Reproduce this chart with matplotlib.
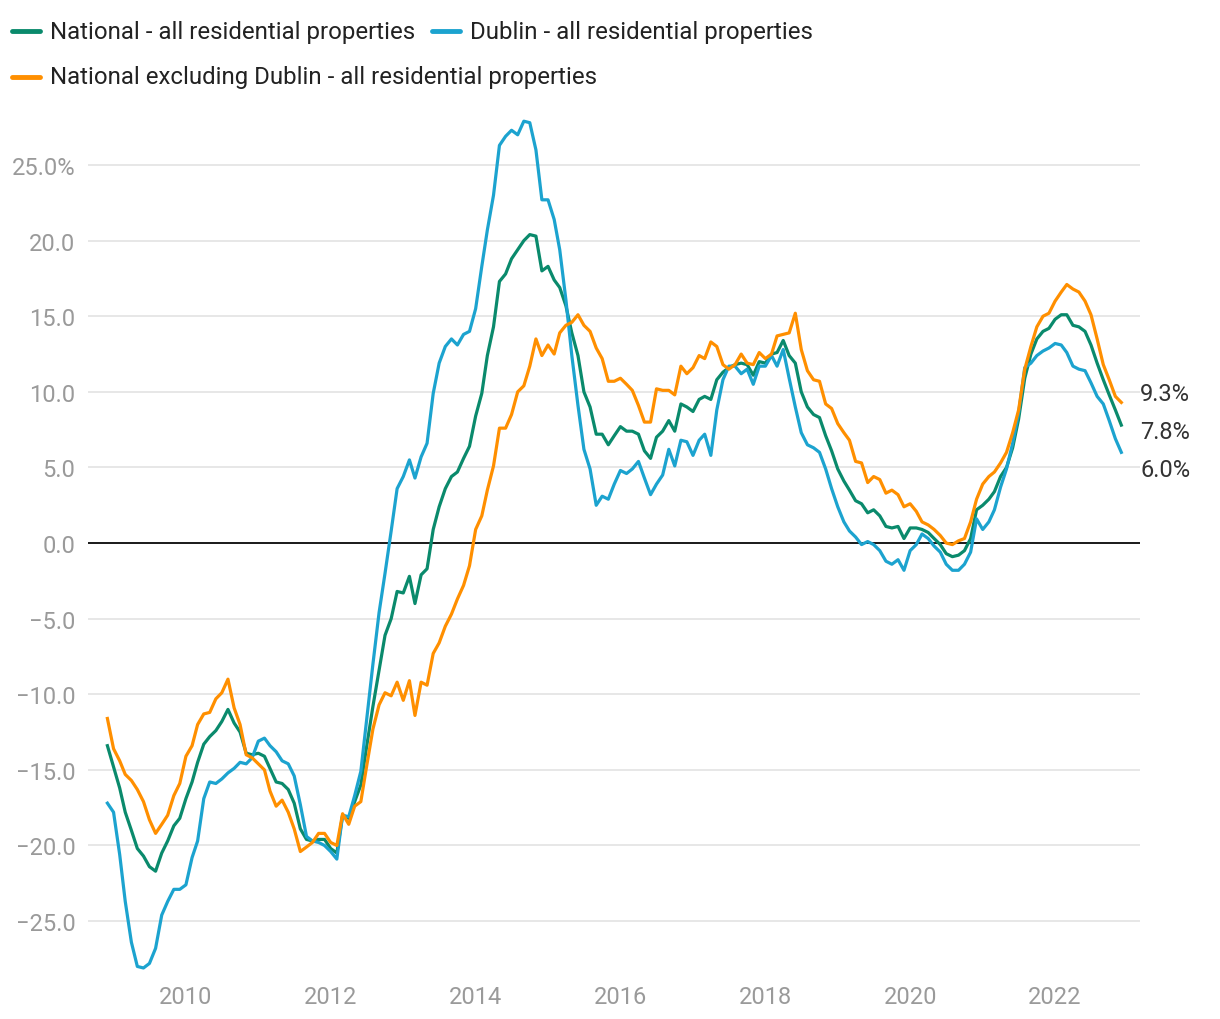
import matplotlib.pyplot as plt
import matplotlib.dates as mdates
from matplotlib.lines import Line2D
import pandas as pd

plt.rcParams['font.family'] = ['Roboto', 'DejaVu Sans']

# annual % change, monthly, Dec 2008 - Dec 2022
national = [
    -13.4, -14.8, -16.2, -17.8, -19.0, -20.2, -20.7, -21.4, -21.7, -20.5,
    -19.7, -18.7, -18.2, -16.9, -15.8, -14.5, -13.3, -12.8, -12.4, -11.8,
    -11.0, -11.9, -12.5, -13.9, -14.0, -13.9, -14.1, -14.9, -15.8, -15.9,
    -16.3, -17.2, -18.9, -19.6, -19.7, -19.6, -19.6, -20.2, -20.5, -18.0,
    -18.2, -17.1, -16.0, -13.4, -10.8, -8.4, -6.1, -5.0, -3.2, -3.3,
    -2.2, -4.0, -2.1, -1.7, 0.9, 2.4, 3.6, 4.4, 4.7, 5.6,
    6.4, 8.4, 9.9, 12.4, 14.3, 17.3, 17.8, 18.8, 19.4, 20.0,
    20.4, 20.3, 18.0, 18.3, 17.4, 16.9, 15.7, 13.9, 12.4, 10.0,
    9.0, 7.2, 7.2, 6.5, 7.1, 7.7, 7.4, 7.4, 7.2, 6.1,
    5.6, 7.0, 7.4, 8.1, 7.4, 9.2, 9.0, 8.7, 9.5, 9.7,
    9.5, 10.8, 11.3, 11.6, 11.8, 11.9, 11.8, 11.1, 12.0, 11.9,
    12.5, 12.6, 13.4, 12.4, 11.9, 10.0, 9.0, 8.5, 8.3, 7.1,
    6.1, 4.9, 4.1, 3.5, 2.8, 2.6, 2.0, 2.2, 1.8, 1.1,
    1.0, 1.1, 0.3, 1.0, 1.0, 0.9, 0.7, 0.3, -0.1, -0.7,
    -0.9, -0.8, -0.5, 0.3, 2.2, 2.5, 2.9, 3.4, 4.4, 5.0,
    6.3, 8.2, 10.9, 12.5, 13.5, 14.0, 14.2, 14.8, 15.1, 15.1,
    14.4, 14.3, 14.0, 13.1, 11.9, 10.8, 9.8, 8.8, 7.8,
]

dublin = [
    -17.2, -17.8, -20.6, -23.7, -26.4, -28.0, -28.1, -27.8, -26.8, -24.6,
    -23.7, -22.9, -22.9, -22.6, -20.8, -19.7, -16.9, -15.8, -15.9, -15.6,
    -15.2, -14.9, -14.5, -14.6, -14.2, -13.1, -12.9, -13.4, -13.8, -14.4,
    -14.6, -15.4, -17.3, -19.4, -19.7, -19.8, -20.0, -20.4, -20.9, -18.0,
    -18.1, -16.7, -15.1, -11.6, -8.0, -4.6, -2.0, 0.8, 3.6, 4.4,
    5.5, 4.3, 5.7, 6.6, 9.9, 11.9, 13.0, 13.5, 13.1, 13.8,
    14.0, 15.5, 18.3, 20.7, 23.0, 26.3, 26.9, 27.3, 27.0, 27.9,
    27.8, 26.0, 22.7, 22.7, 21.4, 19.4, 16.1, 12.4, 9.1, 6.2,
    4.9, 2.5, 3.1, 2.9, 3.9, 4.8, 4.6, 4.9, 5.4, 4.3,
    3.2, 3.9, 4.5, 6.2, 5.1, 6.8, 6.7, 5.8, 6.8, 7.2,
    5.8, 8.8, 10.8, 11.7, 11.7, 11.2, 11.5, 10.5, 11.7, 11.7,
    12.4, 11.7, 12.8, 10.9, 9.0, 7.3, 6.5, 6.3, 6.0, 4.9,
    3.6, 2.4, 1.4, 0.8, 0.4, -0.1, 0.1, -0.1, -0.5, -1.2,
    -1.4, -1.1, -1.8, -0.5, -0.1, 0.6, 0.3, -0.2, -0.6, -1.4,
    -1.8, -1.8, -1.4, -0.6, 1.6, 0.9, 1.4, 2.2, 3.7, 4.9,
    6.6, 8.6, 11.6, 11.9, 12.4, 12.7, 12.9, 13.2, 13.1, 12.6,
    11.7, 11.5, 11.4, 10.6, 9.7, 9.2, 8.1, 6.9, 6.0,
]

excl_dublin = [
    -11.6, -13.6, -14.4, -15.3, -15.7, -16.3, -17.1, -18.3, -19.2, -18.6,
    -18.0, -16.7, -15.9, -14.1, -13.4, -12.0, -11.3, -11.2, -10.3, -9.9,
    -9.0, -10.9, -12.0, -14.0, -14.2, -14.6, -15.0, -16.4, -17.4, -17.0,
    -17.8, -18.9, -20.4, -20.1, -19.8, -19.2, -19.2, -19.8, -20.0, -17.9,
    -18.6, -17.4, -17.1, -14.7, -12.3, -10.7, -9.9, -10.1, -9.2, -10.4,
    -9.1, -11.4, -9.2, -9.4, -7.3, -6.6, -5.5, -4.7, -3.7, -2.8,
    -1.5, 0.9, 1.8, 3.5, 5.1, 7.6, 7.6, 8.5, 10.0, 10.4,
    11.7, 13.5, 12.4, 13.1, 12.5, 13.9, 14.4, 14.6, 15.1, 14.4,
    14.0, 12.9, 12.2, 10.7, 10.7, 10.9, 10.5, 10.1, 9.1, 8.0,
    8.0, 10.2, 10.1, 10.1, 9.8, 11.7, 11.2, 11.6, 12.4, 12.2,
    13.3, 13.0, 11.8, 11.5, 11.8, 12.5, 11.9, 11.8, 12.6, 12.2,
    12.5, 13.7, 13.8, 13.9, 15.2, 12.8, 11.4, 10.8, 10.7, 9.2,
    8.9, 7.9, 7.3, 6.8, 5.4, 5.3, 4.0, 4.4, 4.2, 3.3,
    3.5, 3.2, 2.4, 2.6, 2.1, 1.4, 1.2, 0.9, 0.5, 0.0,
    -0.1, 0.15, 0.3, 1.4, 2.9, 3.9, 4.4, 4.7, 5.3, 6.0,
    7.3, 8.8, 11.5, 13.0, 14.3, 15.0, 15.2, 16.0, 16.6, 17.1,
    16.8, 16.6, 16.0, 15.1, 13.5, 11.8, 10.8, 9.7, 9.3,
]

dates = pd.date_range('2008-12-01', periods=len(national), freq='MS')

series = [
    ('National - all residential properties', national, '#0a8a6c'),
    ('Dublin - all residential properties', dublin, '#1ca3cf'),
    ('National excluding Dublin - all residential properties', excl_dublin, '#ff8f00'),
]

fig = plt.figure(figsize=(12.2, 10.2), dpi=100)
ax = fig.add_axes([0.0721, 0.0441, 0.8623, 0.845])

for label, vals, col in series:
    ax.plot(dates, vals, color=col, lw=2.3, solid_joinstyle='round')

ax.set_ylim(-28.5, 28.5)
ax.set_xlim(pd.Timestamp('2008-08-25'), pd.Timestamp('2023-03-05'))

yt = [-25, -20, -15, -10, -5, 0, 5, 10, 15, 20, 25]
ax.set_yticks(yt)
ax.set_yticklabels([f'{v:.1f}%' if v == 25 else f'{v:.1f}'.replace('-', '\u2212') for v in yt])
ax.set_xticks([pd.Timestamp(f'{y}-01-01') for y in range(2010, 2023, 2)])
ax.xaxis.set_major_formatter(mdates.DateFormatter('%Y'))

ax.grid(axis='y', color='#e3e3e3', lw=1.2)
ax.set_axisbelow(True)
ax.axhline(0, color='#1a1a1a', lw=1.4, zorder=1.5)
for s in ax.spines.values():
    s.set_visible(False)
ax.tick_params(length=0, labelsize=17, labelcolor='#9a9a9a')
ax.tick_params(axis='y', pad=9)
ax.tick_params(axis='x', pad=8)

# end labels
end = dates[-1]
for vals, ypos in [(excl_dublin, 9.92), (national, 7.41), (dublin, 4.89)]:
    ax.annotate(f'{vals[-1]:.1f}%', xy=(end, ypos), xytext=(13.5, 0),
                textcoords='offset points', va='center', ha='left',
                fontsize=17, color='#333333', annotation_clip=False)

# legend laid out in rows like the original
W, H = 1220, 1020
items = [(series[0], 12, 32), (series[1], 432, 32), (series[2], 12, 78)]
for (label, vals, col), px, py in items:
    fig.add_artist(Line2D([px / W, (px + 28) / W], [1 - py / H, 1 - py / H],
                          color=col, lw=3.5, solid_capstyle='round'))
    fig.text((px + 38) / W, 1 - py / H, label, fontsize=17.25, color='#222222',
             va='center', ha='left')

fig.savefig('out.png', dpi=100)
